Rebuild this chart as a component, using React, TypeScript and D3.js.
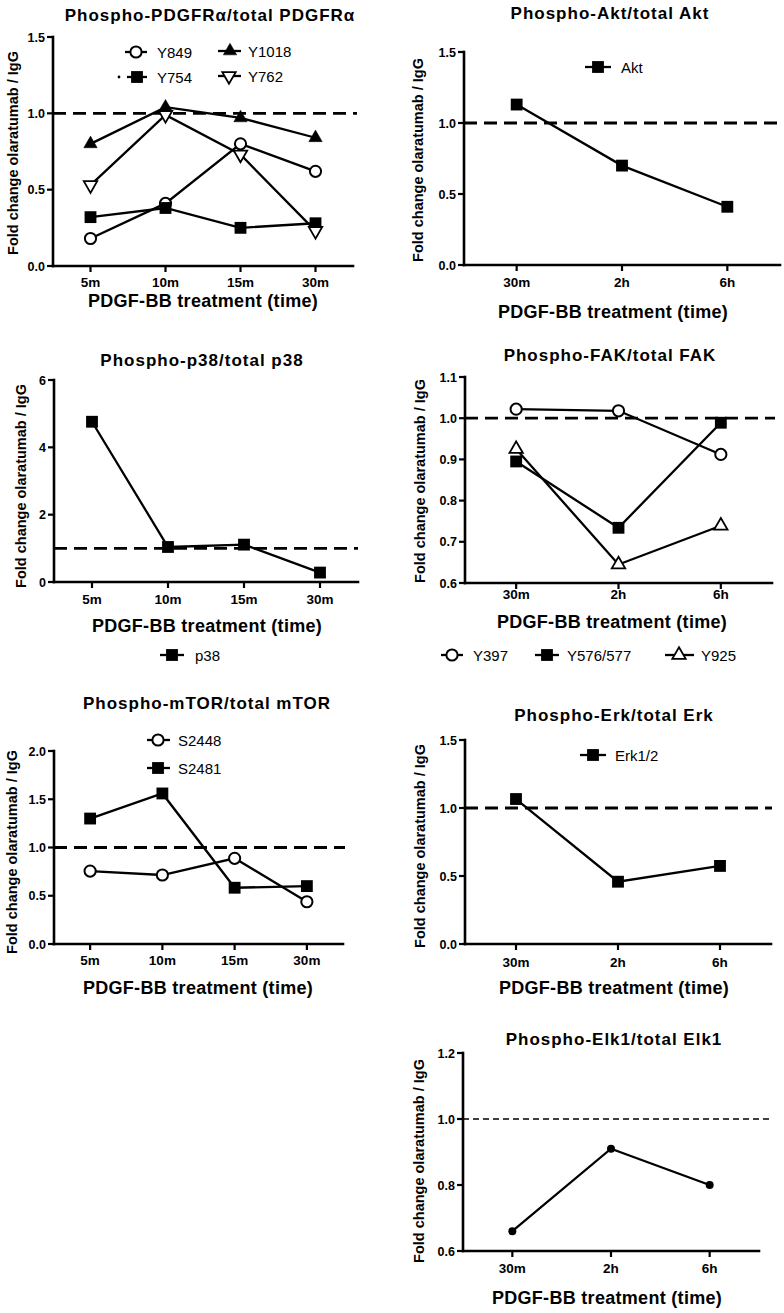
import React from "react";
import * as d3 from "d3";

// ---------- data ----------
const minuteTimes = ["5m", "10m", "15m", "30m"];
const hourTimes = ["30m", "2h", "6h"];

const pdgfrY849 = [0.18, 0.41, 0.8, 0.62];
const pdgfrY1018 = [0.8, 1.04, 0.97, 0.84];
const pdgfrY754 = [0.32, 0.38, 0.25, 0.28];
const pdgfrY762 = [0.53, 0.99, 0.73, 0.23];

const aktValues = [1.13, 0.7, 0.41];

const p38Values = [4.76, 1.04, 1.11, 0.28];

const fakY397 = [1.022, 1.018, 0.912];
const fakY576 = [0.895, 0.734, 0.989];
const fakY925 = [0.925, 0.645, 0.739];

const mtorS2448 = [0.756, 0.715, 0.888, 0.438];
const mtorS2481 = [1.3, 1.56, 0.583, 0.6];

const erkValues = [1.066, 0.458, 0.574];

const elkValues = [0.66, 0.91, 0.8];

const ticks15 = [0, 0.5, 1.0, 1.5];
const ticksP38 = [0, 2, 4, 6];
const ticksFak = [0.6, 0.7, 0.8, 0.9, 1.0, 1.1];
const ticksMtor = [0, 0.5, 1.0, 1.5, 2.0];
const ticksElk = [0.6, 0.8, 1.0, 1.2];

const yTitle = "Fold change olaratumab / IgG";
const xTitle = "PDGF-BB treatment (time)";

const FONT = "'Liberation Sans', Arial, Helvetica, sans-serif";

type MarkerType = "circleOpen" | "square" | "triUpFilled" | "triDownOpen" | "triUpOpen" | "dot";

function Marker({ type, x, y }: { type: MarkerType; x: number; y: number }) {
  if (type === "circleOpen") {
    return <circle cx={x} cy={y} r={5.6} fill="#fff" stroke="#000" strokeWidth={2} />;
  }
  if (type === "dot") {
    return <circle cx={x} cy={y} r={4} fill="#000" />;
  }
  if (type === "square") {
    const p = d3.symbol().type(d3.symbolSquare).size(140)();
    return <path d={p || ""} transform={`translate(${x},${y})`} fill="#000" />;
  }
  const p = d3.symbol().type(d3.symbolTriangle).size(78)();
  const filled = type === "triUpFilled";
  const rot = type === "triDownOpen" ? 180 : 0;
  return (
    <path
      d={p || ""}
      transform={`translate(${x},${y}) rotate(${rot})`}
      fill={filled ? "#000" : "#fff"}
      stroke="#000"
      strokeWidth={filled ? 0.5 : 1.8}
      strokeLinejoin="miter"
    />
  );
}

type Series = { name: string; values: number[]; marker: MarkerType };
type LegendItem = { series: number; mx: number; y: number; l: number; r: number; tx: number; dot?: number };

type PanelCfg = {
  title: string;
  titleX: number;
  titleY: number;
  x0: number;
  x1: number;
  yTop: number;
  yBot: number;
  refEnd: number;
  thinRef?: boolean;
  domain: [number, number];
  ticks: number[];
  fmt: string;
  cats: string[];
  series: Series[];
  legend: LegendItem[];
  yLabelX: number;
  yLabelY: number;
  xTickY: number;
  xLabelX: number;
  xLabelY: number;
};

const panels: PanelCfg[] = [
  {
    title: "Phospho-PDGFRα/total PDGFRα",
    titleX: 210, titleY: 21,
    x0: 53, x1: 353, yTop: 37, yBot: 266, refEnd: 357,
    domain: [0, 1.5], ticks: ticks15, fmt: ".1f", cats: minuteTimes,
    series: [
      { name: "Y849", values: pdgfrY849, marker: "circleOpen" },
      { name: "Y1018", values: pdgfrY1018, marker: "triUpFilled" },
      { name: "Y754", values: pdgfrY754, marker: "square" },
      { name: "Y762", values: pdgfrY762, marker: "triDownOpen" },
    ],
    legend: [
      { series: 0, mx: 136, y: 52, l: 125, r: 147, tx: 157 },
      { series: 1, mx: 230, y: 51, l: 218, r: 241, tx: 248 },
      { series: 2, mx: 137, y: 77, l: 127, r: 147, tx: 157, dot: 119 },
      { series: 3, mx: 229, y: 76, l: 218, r: 241, tx: 248 },
    ],
    yLabelX: 18, yLabelY: 153, xTickY: 287, xLabelX: 203, xLabelY: 307,
  },
  {
    title: "Phospho-Akt/total Akt",
    titleX: 610, titleY: 19,
    x0: 464, x1: 780, yTop: 52, yBot: 265, refEnd: 780,
    domain: [0, 1.5], ticks: ticks15, fmt: ".1f", cats: hourTimes,
    series: [{ name: "Akt", values: aktValues, marker: "square" }],
    legend: [{ series: 0, mx: 598, y: 67, l: 585, r: 611, tx: 621 }],
    yLabelX: 423, yLabelY: 160, xTickY: 287, xLabelX: 613, xLabelY: 318,
  },
  {
    title: "Phospho-p38/total p38",
    titleX: 202, titleY: 366,
    x0: 54, x1: 358, yTop: 380, yBot: 582, refEnd: 358,
    domain: [0, 6], ticks: ticksP38, fmt: "d", cats: minuteTimes,
    series: [{ name: "p38", values: p38Values, marker: "square" }],
    legend: [{ series: 0, mx: 172, y: 655, l: 160, r: 184, tx: 195 }],
    yLabelX: 26, yLabelY: 486, xTickY: 604, xLabelX: 207, xLabelY: 632,
  },
  {
    title: "Phospho-FAK/total FAK",
    titleX: 610, titleY: 361,
    x0: 465, x1: 772, yTop: 377, yBot: 583, refEnd: 775,
    domain: [0.6, 1.1], ticks: ticksFak, fmt: ".1f", cats: hourTimes,
    series: [
      { name: "Y397", values: fakY397, marker: "circleOpen" },
      { name: "Y576/577", values: fakY576, marker: "square" },
      { name: "Y925", values: fakY925, marker: "triUpOpen" },
    ],
    legend: [
      { series: 0, mx: 452, y: 655, l: 441, r: 463, tx: 473 },
      { series: 1, mx: 547, y: 655, l: 535, r: 559, tx: 567 },
      { series: 2, mx: 679, y: 655, l: 665, r: 694, tx: 701 },
    ],
    yLabelX: 425, yLabelY: 481, xTickY: 599, xLabelX: 612, xLabelY: 628,
  },
  {
    title: "Phospho-mTOR/total mTOR",
    titleX: 207, titleY: 709,
    x0: 54, x1: 343, yTop: 751, yBot: 944, refEnd: 345,
    domain: [0, 2], ticks: ticksMtor, fmt: ".1f", cats: minuteTimes,
    series: [
      { name: "S2448", values: mtorS2448, marker: "circleOpen" },
      { name: "S2481", values: mtorS2481, marker: "square" },
    ],
    legend: [
      { series: 0, mx: 158, y: 740, l: 147, r: 170, tx: 178 },
      { series: 1, mx: 158, y: 768, l: 147, r: 170, tx: 178 },
    ],
    yLabelX: 17, yLabelY: 852, xTickY: 965, xLabelX: 198, xLabelY: 994,
  },
  {
    title: "Phospho-Erk/total Erk",
    titleX: 614, titleY: 721,
    x0: 465, x1: 771, yTop: 740, yBot: 944, refEnd: 772,
    domain: [0, 1.5], ticks: ticks15, fmt: ".1f", cats: hourTimes,
    series: [{ name: "Erk1/2", values: erkValues, marker: "square" }],
    legend: [{ series: 0, mx: 593, y: 755, l: 580, r: 606, tx: 615 }],
    yLabelX: 425, yLabelY: 846, xTickY: 967, xLabelX: 614, xLabelY: 994,
  },
  {
    title: "Phospho-Elk1/total Elk1",
    titleX: 614, titleY: 1045,
    x0: 463, x1: 759, yTop: 1053, yBot: 1251, refEnd: 769, thinRef: true,
    domain: [0.6, 1.2], ticks: ticksElk, fmt: ".1f", cats: hourTimes,
    series: [{ name: "", values: elkValues, marker: "dot" }],
    legend: [],
    yLabelX: 424, yLabelY: 1161, xTickY: 1273, xLabelX: 607, xLabelY: 1304,
  },
];

function Panel({ cfg }: { cfg: PanelCfg }) {
  const x = d3.scalePoint<string>().domain(cfg.cats).range([cfg.x0, cfg.x1]).padding(0.5);
  const y = d3.scaleLinear().domain(cfg.domain).range([cfg.yBot, cfg.yTop]);
  const fmt = d3.format(cfg.fmt);
  const line = d3
    .line<number>()
    .x((_, i) => x(cfg.cats[i]) as number)
    .y((d) => y(d));

  return (
    <g>
      {/* title */}
      <text x={cfg.titleX} y={cfg.titleY} textAnchor="middle" fontSize={17} fontWeight="bold" letterSpacing={1} fontFamily={FONT}>
        {cfg.title}
      </text>
      {/* reference line at 1 */}
      <line
        x1={cfg.x0}
        x2={cfg.refEnd}
        y1={y(1)}
        y2={y(1)}
        stroke="#000"
        strokeWidth={cfg.thinRef ? 1.5 : 2.8}
        strokeDasharray={cfg.thinRef ? "6,4" : "13,7"}
      />
      {/* series */}
      {cfg.series.map((s, si) => (
        <g key={si}>
          <path d={line(s.values) || ""} fill="none" stroke="#000" strokeWidth={2.3} strokeLinejoin="miter" />
          {s.values.map((v, i) => (
            <Marker key={i} type={s.marker} x={x(cfg.cats[i]) as number} y={y(v)} />
          ))}
        </g>
      ))}
      {/* axes */}
      <line x1={cfg.x0} x2={cfg.x0} y1={cfg.yTop} y2={cfg.yBot} stroke="#000" strokeWidth={2.6} strokeLinecap="square" />
      <line x1={cfg.x0} x2={cfg.x1} y1={cfg.yBot} y2={cfg.yBot} stroke="#000" strokeWidth={2.6} strokeLinecap="square" />
      {cfg.ticks.map((t, i) => (
        <g key={"yt" + i}>
          <line x1={cfg.x0 - 6} x2={cfg.x0} y1={y(t)} y2={y(t)} stroke="#000" strokeWidth={2.2} />
          <text x={cfg.x0 - 8} y={y(t)} dy="0.36em" textAnchor="end" fontSize={12.5} fontWeight="bold" fontFamily={FONT}>
            {fmt(t)}
          </text>
        </g>
      ))}
      {cfg.cats.map((c, i) => (
        <g key={"xt" + i}>
          <line x1={x(c) as number} x2={x(c) as number} y1={cfg.yBot} y2={cfg.yBot + 6} stroke="#000" strokeWidth={2.2} />
          <text x={x(c) as number} y={cfg.xTickY} textAnchor="middle" fontSize={13.5} fontWeight="bold" fontFamily={FONT}>
            {c}
          </text>
        </g>
      ))}
      {/* axis titles */}
      <text
        transform={`translate(${cfg.yLabelX},${cfg.yLabelY}) rotate(-90)`}
        textAnchor="middle"
        fontSize={14.5}
        fontWeight="bold"
        fontFamily={FONT}
      >
        {yTitle}
      </text>
      <text x={cfg.xLabelX} y={cfg.xLabelY} textAnchor="middle" fontSize={18} fontWeight="bold" letterSpacing={0.3} fontFamily={FONT}>
        {xTitle}
      </text>
      {/* legend */}
      {cfg.legend.map((lg, i) => {
        const s = cfg.series[lg.series];
        return (
          <g key={"lg" + i}>
            {lg.dot !== undefined && <circle cx={lg.dot} cy={lg.y} r={1.4} fill="#000" />}
            <line x1={lg.l} x2={lg.r} y1={lg.y} y2={lg.y} stroke="#000" strokeWidth={2.3} />
            <Marker type={s.marker} x={lg.mx} y={lg.y} />
            <text x={lg.tx} y={lg.y + 5.5} fontSize={15} fontFamily={FONT}>
              {s.name}
            </text>
          </g>
        );
      })}
    </g>
  );
}

export default function App() {
  return (
    <svg
      width={784}
      height={1313}
      viewBox="0 0 784 1313"
      style={{ position: "absolute", left: 0, top: 0, background: "#fff" }}
    >
      <rect x={0} y={0} width={784} height={1313} fill="#fff" />
      {panels.map((p, i) => (
        <Panel key={i} cfg={p} />
      ))}
    </svg>
  );
}
